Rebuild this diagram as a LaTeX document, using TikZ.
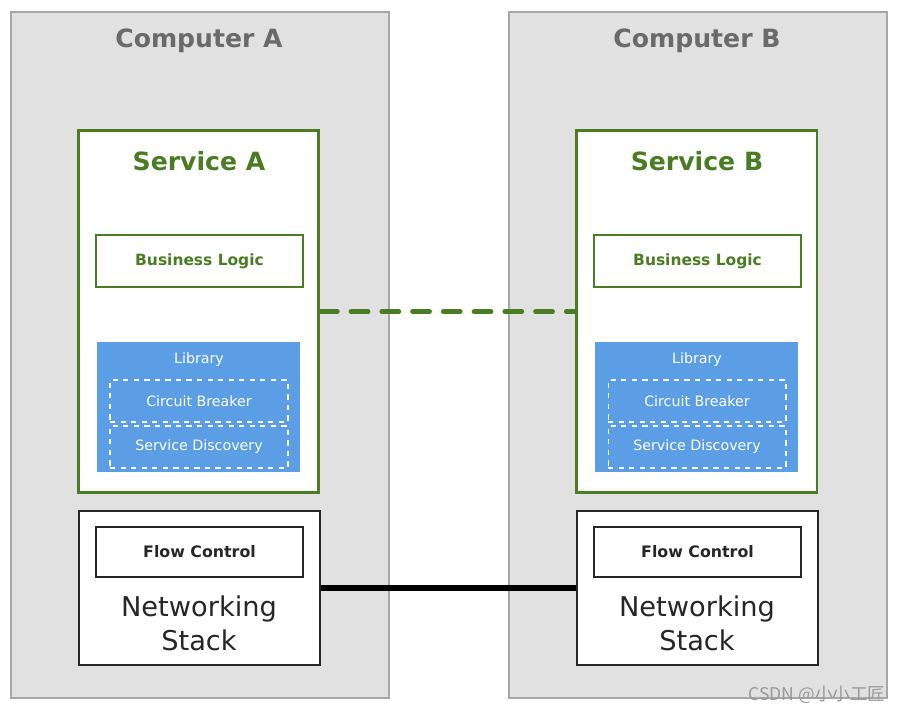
\documentclass[tikz,border=0pt]{standalone}
\usepackage{fontspec}
\setmainfont{DejaVu Sans}
\newfontfamily\cjkfont{Noto Sans CJK SC}
\usepackage{xcolor}
\usetikzlibrary{positioning}
\definecolor{hostfill}{HTML}{E1E1E1}
\definecolor{hostedge}{HTML}{A6A6A6}
\definecolor{hosttext}{HTML}{6A6A6A}
\definecolor{svcgreen}{HTML}{4A7D23}
\definecolor{libblue}{HTML}{5B9EE6}

\begin{document}
\begin{tikzpicture}[
	x=0.02cm, y=-0.02cm,
	computer/.style = {
		rectangle, draw=hostedge, fill=hostfill,
		line width=1pt,
		minimum width=7.56cm, minimum height=13.72cm
	},
	title/.style = {
		font=\fontsize{14.3}{17}\selectfont\bfseries
	},
	service/.style = {
		rectangle, draw=svcgreen, fill=white,
		line width=1.7pt,
		minimum width=4.82cm, minimum height=7.26cm
	},
	logic/.style = {
		rectangle, draw=svcgreen, fill=white,
		line width=0.7pt,
		text=svcgreen,
		font=\fontsize{8.8}{11}\selectfont\bfseries,
		minimum width=4.14cm, minimum height=1.04cm
	},
	library/.style = {
		rectangle, fill=libblue,
		minimum width=4.06cm, minimum height=2.6cm
	},
	module/.style = {
		rectangle, draw=white, dashed,
		line width=0.6pt,
		text=white,
		font=\fontsize{8.1}{9}\selectfont,
		minimum width=3.56cm, minimum height=0.84cm
	},
	netstack/.style = {
		rectangle, draw=black!85, fill=white,
		line width=1pt,
		minimum width=4.82cm, minimum height=3.08cm
	},
	flow/.style = {
		rectangle, draw=black!85, fill=white,
		line width=0.9pt,
		text=black!85,
		font=\fontsize{9}{11}\selectfont\bfseries,
		minimum width=4.14cm, minimum height=1.0cm
	}
]
	\useasboundingbox (0, 0) rectangle (901, 716);
	\foreach \n/\dx in {A/0, B/498} {
		% Computer
		\node[computer] (host\n) at ({200+\dx}, 355) {};
		\node[title, text=hosttext] (hostlbl\n) at ({199+\dx}, 41) {Computer \n};
		% Service
		\node[service] (svc\n) at ({198.5+\dx}, 311.5) {};
		\node[title, text=svcgreen] (svclbl\n) at ({199+\dx}, 161) {Service \n};
		\node[logic] (logic\n) at ({199.5+\dx}, 261) {Business Logic};
		% Library
		\node[library] (lib\n) at ({198.5+\dx}, 407) {};
		\node[text=white, font=\fontsize{8.1}{9}\selectfont] (liblbl\n) at ({199+\dx}, 360) {Library};
		\node[module] (breaker\n) at ({199+\dx}, 401) {Circuit Breaker};
		\node[module] (discovery\n) at ({199+\dx}, 447) {Service Discovery};
		% Networking Stack
		\node[netstack] (net\n) at ({199.5+\dx}, 588) {};
		\node[flow] (flow\n) at ({199.5+\dx}, 552) {Flow Control};
		\node[align=center, text=black!85, font=\fontsize{15.5}{19.5}\selectfont]
			(netlbl\n) at ({199+\dx}, 623) {Networking\\Stack};
	}
	% Links between the computers
	\draw[svcgreen, line width=2.9pt, line cap=round,
		dash pattern=on 9.5pt off 8pt] (svcA.east) -- (svcB.west);
	\draw[black, line width=3.6pt] (netA.east) -- (netB.west);
	%
	\node[text=black!40, font=\cjkfont\fontsize{10}{11}\selectfont]
		(mark) at (817, 695) {CSDN @小小工匠};
\end{tikzpicture}
\end{document}
